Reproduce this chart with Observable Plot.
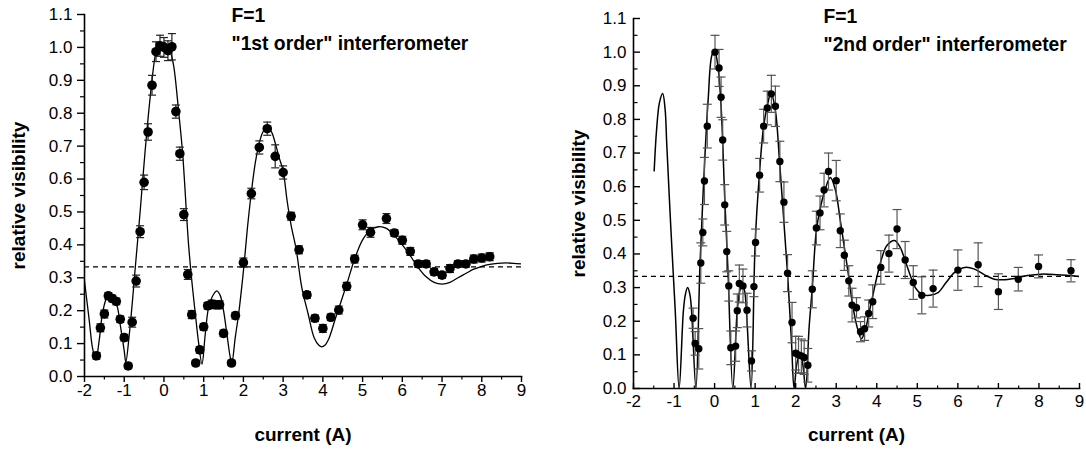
<!DOCTYPE html>
<html><head><meta charset="utf-8">
<script src="https://cdn.jsdelivr.net/npm/d3@7"></script>
<script src="https://cdn.jsdelivr.net/npm/@observablehq/plot@0.6"></script>
<style>
body{margin:0;background:#fff;}
#wrap{display:flex;width:1086px;height:450px;}
#wrap svg{overflow:visible;}
</style></head><body><div id="wrap"></div>
<script>
// ---- axis ticks ----
const xTicks = [-2,-1,0,1,2,3,4,5,6,7,8,9];
const xMinorTicks = [-1.5,-0.5,0.5,1.5,2.5,3.5,4.5,5.5,6.5,7.5,8.5];
const yTicks = [0,0.1,0.2,0.3,0.4,0.5,0.6,0.7,0.8,0.9,1.0,1.1];
const yMinorTicks = [0.05,0.15,0.25,0.35,0.45,0.55,0.65,0.75,0.85,0.95,1.05];
const referenceLevel = [1/3];

// ---- texts ----
const xTitle = "current (A)";
const yTitle = "relative visibility";
const leftTitles = ["F=1", "\"1st order\" interferometer"];
const rightTitles = ["F=1", "\"2nd order\" interferometer"];

// ---- left panel: measured points ----
const leftCurrent = [-1.7,-1.6,-1.5,-1.4,-1.3,-1.2,-1.1,-1.0,-0.9,-0.8,-0.7,-0.6,-0.5,-0.4,-0.3,-0.2,-0.1,0.0,0.1,0.2,0.3,0.4,0.5,0.6,0.7,0.8,0.9,1.0,1.1,1.2,1.3,1.4,1.5,1.7,1.8,2.0,2.2,2.4,2.6,2.8,3.0,3.2,3.4,3.6,3.8,4.0,4.2,4.4,4.6,4.8,5.0,5.2,5.6,5.8,6.0,6.2,6.4,6.6,6.8,7.0,7.2,7.4,7.6,7.8,8.0,8.2];
const leftVisibility = [0.063,0.148,0.19,0.245,0.237,0.228,0.174,0.118,0.032,0.165,0.29,0.44,0.59,0.743,0.885,0.987,1.005,1.0,0.99,1.002,0.805,0.677,0.492,0.31,0.188,0.041,0.081,0.151,0.215,0.22,0.218,0.218,0.131,0.041,0.185,0.346,0.556,0.696,0.753,0.669,0.62,0.487,0.385,0.248,0.177,0.146,0.18,0.202,0.274,0.357,0.461,0.438,0.48,0.436,0.414,0.38,0.342,0.342,0.318,0.308,0.328,0.342,0.342,0.357,0.36,0.364];
const leftError = [0.01,0.012,0.012,0.01,0.01,0.01,0.01,0.01,0.008,0.015,0.018,0.018,0.022,0.025,0.03,0.03,0.032,0.03,0.03,0.04,0.02,0.02,0.018,0.015,0.012,0.008,0.01,0.01,0.01,0.012,0.012,0.012,0.01,0.008,0.01,0.014,0.016,0.02,0.02,0.035,0.02,0.012,0.012,0.01,0.01,0.012,0.01,0.012,0.012,0.012,0.015,0.015,0.015,0.01,0.012,0.012,0.01,0.01,0.01,0.01,0.012,0.01,0.01,0.012,0.012,0.012];

// ---- left panel: fitted curve ----
const leftFitCurrent = [-2.0,-1.88,-1.8,-1.715,-1.63,-1.55,-1.46,-1.38,-1.255,-1.17,-1.09,-1.0,-0.96,-0.88,-0.8,-0.73,-0.6,-0.54,-0.43,-0.31,-0.2,-0.1,0.0,0.1,0.18,0.25,0.37,0.47,0.57,0.62,0.71,0.79,0.875,0.957,1.04,1.125,1.25,1.33,1.42,1.5,1.585,1.67,1.71,1.795,1.88,2.0,2.1,2.2,2.3,2.4,2.5,2.6,2.7,2.8,2.9,3.0,3.1,3.2,3.33,3.47,3.63,3.78,3.9,3.97,4.05,4.15,4.3,4.45,4.6,4.8,5.0,5.2,5.4,5.6,5.8,6.0,6.2,6.4,6.6,6.8,7.0,7.2,7.4,7.6,7.8,8.0,8.2,8.4,8.6,8.8,9.0];
const leftFitVisibility = [0.29,0.17,0.088,0.05,0.11,0.19,0.235,0.255,0.24,0.21,0.149,0.078,0.043,0.119,0.22,0.32,0.5,0.59,0.745,0.889,0.985,1.01,1.015,1.005,0.98,0.94,0.805,0.678,0.49,0.40,0.28,0.19,0.10,0.038,0.129,0.21,0.25,0.26,0.245,0.20,0.129,0.058,0.043,0.119,0.19,0.32,0.45,0.56,0.65,0.71,0.745,0.755,0.745,0.71,0.665,0.625,0.534,0.46,0.385,0.27,0.19,0.118,0.095,0.09,0.095,0.115,0.17,0.225,0.28,0.357,0.415,0.445,0.455,0.45,0.428,0.40,0.367,0.331,0.303,0.286,0.281,0.286,0.30,0.313,0.326,0.335,0.341,0.344,0.345,0.344,0.342];

// ---- right panel: measured points ----
const rightCurrent = [-0.53,-0.48,-0.39,-0.34,-0.29,-0.25,-0.18,0.01,0.11,0.16,0.2,0.25,0.3,0.35,0.4,0.52,0.56,0.61,0.7,0.8,0.91,0.97,1.01,1.11,1.21,1.3,1.4,1.5,1.61,1.71,1.8,1.91,2.0,2.07,2.14,2.21,2.3,2.41,2.51,2.6,2.7,2.81,3.0,3.1,3.2,3.31,3.39,3.5,3.6,3.7,3.8,3.9,4.1,4.3,4.5,4.7,4.9,5.11,5.39,6.0,6.5,7.0,7.49,7.99,8.79];
const rightVisibility = [0.209,0.134,0.118,0.373,0.464,0.617,0.78,1.0,0.953,0.866,0.739,0.546,0.407,0.305,0.121,0.126,0.231,0.312,0.305,0.233,0.082,0.303,0.434,0.634,0.78,0.834,0.876,0.839,0.675,0.554,0.343,0.196,0.105,0.1,0.097,0.092,0.069,0.295,0.477,0.522,0.59,0.645,0.618,0.469,0.396,0.32,0.248,0.24,0.169,0.178,0.223,0.258,0.36,0.401,0.474,0.382,0.315,0.277,0.297,0.352,0.368,0.288,0.325,0.363,0.35];
const rightError = [0.03,0.035,0.06,0.06,0.04,0.07,0.065,0.05,0.055,0.06,0.06,0.06,0.06,0.045,0.05,0.045,0.05,0.055,0.05,0.05,0.03,0.03,0.04,0.05,0.05,0.05,0.055,0.06,0.06,0.06,0.055,0.06,0.05,0.055,0.05,0.05,0.05,0.055,0.05,0.05,0.05,0.055,0.06,0.05,0.045,0.045,0.05,0.03,0.03,0.035,0.04,0.05,0.05,0.055,0.058,0.055,0.05,0.055,0.055,0.06,0.065,0.053,0.035,0.034,0.033];

// ---- right panel: fitted curve ----
const rightFitCurrent = [-1.49,-1.43,-1.36,-1.28,-1.22,-1.18,-1.08,-0.97,-0.875,-0.77,-0.72,-0.665,-0.61,-0.567,-0.46,-0.36,-0.264,-0.16,-0.054,0.005,0.085,0.166,0.25,0.33,0.45,0.557,0.62,0.68,0.74,0.795,0.9,1.0,1.105,1.21,1.31,1.39,1.5,1.595,1.69,1.8,1.9,1.96,2.03,2.1,2.17,2.245,2.33,2.41,2.51,2.61,2.73,2.855,2.98,3.1,3.2,3.31,3.39,3.5,3.62,3.72,3.8,3.9,4.0,4.13,4.25,4.44,4.58,4.7,4.83,4.95,5.11,5.31,5.51,5.71,5.92,6.17,6.41,6.66,6.9,7.1,7.39,7.72,8.05,8.46,9.0];
const rightFitVisibility = [0.647,0.77,0.85,0.877,0.83,0.727,0.479,0.23,0.0,0.23,0.28,0.30,0.28,0.23,0.0,0.37,0.627,0.856,0.995,1.0,0.955,0.826,0.568,0.35,0.0,0.23,0.29,0.31,0.29,0.21,0.0,0.43,0.637,0.78,0.846,0.88,0.826,0.687,0.528,0.34,0.13,0.0,0.075,0.1,0.075,0.0,0.18,0.30,0.47,0.538,0.593,0.627,0.59,0.50,0.42,0.33,0.26,0.19,0.148,0.175,0.22,0.275,0.33,0.39,0.425,0.44,0.419,0.38,0.335,0.30,0.28,0.277,0.285,0.315,0.345,0.36,0.355,0.338,0.325,0.323,0.327,0.336,0.34,0.338,0.333];

const font = "'Liberation Sans', Arial, Helvetica, sans-serif";
const capSymbol = {draw(ctx, size) { const r = Math.sqrt(size / Math.PI); ctx.moveTo(-r, 0); ctx.lineTo(r, 0); }};
const fmtY = d3.format(".1f");
const fmtX = d => String(d);
const blank = () => "";

function rows(xs, vs, es) { return xs.map((x, i) => ({x, v: vs[i], e: es ? es[i] : 0})); }

function panel(cfg) {
  const pts = rows(cfg.current, cfg.visibility, cfg.error);
  const fit = rows(cfg.fitCurrent, cfg.fitVisibility);
  const inward = cfg.inward;
  const tickFont = 17;
  const marks = [
    Plot.ruleY(referenceLevel, {strokeDasharray: "5,4", strokeWidth: 1.2}),
    Plot.line(fit, {x: "x", y: "v", curve: "catmull-rom", strokeWidth: cfg.lineWidth, clip: true}),
    Plot.ruleX(pts, {x: "x", y1: d => d.v - d.e, y2: d => d.v + d.e, stroke: cfg.errColor, strokeWidth: 1.2}),
    Plot.dot(pts, {x: "x", y: d => d.v + d.e, symbol: capSymbol, r: cfg.capR, stroke: cfg.errColor, fill: "none", strokeWidth: 1.2}),
    Plot.dot(pts, {x: "x", y: d => d.v - d.e, symbol: capSymbol, r: cfg.capR, stroke: cfg.errColor, fill: "none", strokeWidth: 1.2}),
    Plot.dot(pts, {x: "x", y: "v", r: cfg.dotR, fill: "black", stroke: "none"}),
    Plot.frame({anchor: "left", strokeWidth: 1.6}),
    Plot.frame({anchor: "bottom", strokeWidth: 1.6}),
  ];
  if (!inward) {
    marks.push(
      Plot.axisX(xTicks, {tickSize: 6, tickPadding: 1, tickFormat: fmtX, fontSize: tickFont, strokeWidth: 1.4, label: null}),
      Plot.axisX(xMinorTicks, {tickSize: 3.5, tickFormat: blank, strokeWidth: 1.2, label: null}),
      Plot.axisY(yTicks, {tickSize: 7, tickPadding: 5, tickFormat: fmtY, fontSize: tickFont, strokeWidth: 1.4, label: null}),
      Plot.axisY(yMinorTicks, {tickSize: 4, tickFormat: blank, strokeWidth: 1.2, label: null})
    );
  } else {
    marks.push(
      Plot.axisX(xTicks, {tickSize: 0, tickPadding: 6, tickFormat: fmtX, fontSize: tickFont, label: null}),
      Plot.axisX(xTicks, {anchor: "top", frameAnchor: "bottom", tickSize: 6, tickFormat: blank, strokeWidth: 1.4, label: null}),
      Plot.axisX(xMinorTicks, {anchor: "top", frameAnchor: "bottom", tickSize: 3.5, tickFormat: blank, strokeWidth: 1.2, label: null}),
      Plot.axisY(yTicks, {tickSize: 0, tickPadding: 7, tickFormat: fmtY, fontSize: tickFont, label: null}),
      Plot.axisY(yTicks, {anchor: "right", frameAnchor: "left", tickSize: 6, tickFormat: blank, strokeWidth: 1.4, label: null}),
      Plot.axisY(yMinorTicks, {anchor: "right", frameAnchor: "left", tickSize: 3.5, tickFormat: blank, strokeWidth: 1.2, label: null})
    );
  }
  marks.push(
    Plot.text([xTitle], {text: d => d, frameAnchor: "bottom", textAnchor: "middle", lineAnchor: "middle", dy: cfg.xTitleDy, fontSize: 19, fontWeight: "bold", fill: "black"}),
    Plot.text([yTitle], {text: d => d, frameAnchor: "left", textAnchor: "middle", lineAnchor: "middle", rotate: -90, dx: cfg.yTitleDx, fontSize: 19, fontWeight: "bold", fill: "black"}),
    Plot.text([cfg.titles[0]], {text: d => d, frameAnchor: "top-left", textAnchor: "start", lineAnchor: "middle", dx: cfg.titleDx, dy: cfg.titleDy1, fontSize: 19.3, fontWeight: "bold", fill: "black"}),
    Plot.text([cfg.titles[1]], {text: d => d, frameAnchor: "top-left", textAnchor: "start", lineAnchor: "middle", dx: cfg.titleDx, dy: cfg.titleDy2, fontSize: 19.3, fontWeight: "bold", fill: "black"})
  );
  return Plot.plot({
    width: 543, height: 450,
    marginLeft: cfg.ml, marginRight: cfg.mr, marginTop: cfg.mt, marginBottom: cfg.mb,
    style: {fontFamily: font, fontSize: "16px", color: "black", background: "white", overflow: "visible"},
    x: {domain: [-2, 9]},
    y: {domain: [0, 1.1]},
    marks
  });
}

const wrap = document.getElementById("wrap");
wrap.append(panel({
  current: leftCurrent, visibility: leftVisibility, error: leftError,
  fitCurrent: leftFitCurrent, fitVisibility: leftFitVisibility,
  titles: leftTitles, inward: false,
  ml: 84, mr: 22, mt: 14, mb: 74,
  dotR: 4.8, capR: 4, errColor: "#222", lineWidth: 1.3,
  xTitleDy: 58, yTitleDx: -66, titleDx: 147, titleDy1: 1.8, titleDy2: 29.4
}));
wrap.append(panel({
  current: rightCurrent, visibility: rightVisibility, error: rightError,
  fitCurrent: rightFitCurrent, fitVisibility: rightFitVisibility,
  titles: rightTitles, inward: true,
  ml: 90, mr: 7, mt: 18, mb: 62,
  dotR: 3.7, capR: 4.5, errColor: "#555", lineWidth: 1.5,
  xTitleDy: 46.5, yTitleDx: -55, titleDx: 190, titleDy1: -1.2, titleDy2: 26.1
}));
</script>
</body></html>
